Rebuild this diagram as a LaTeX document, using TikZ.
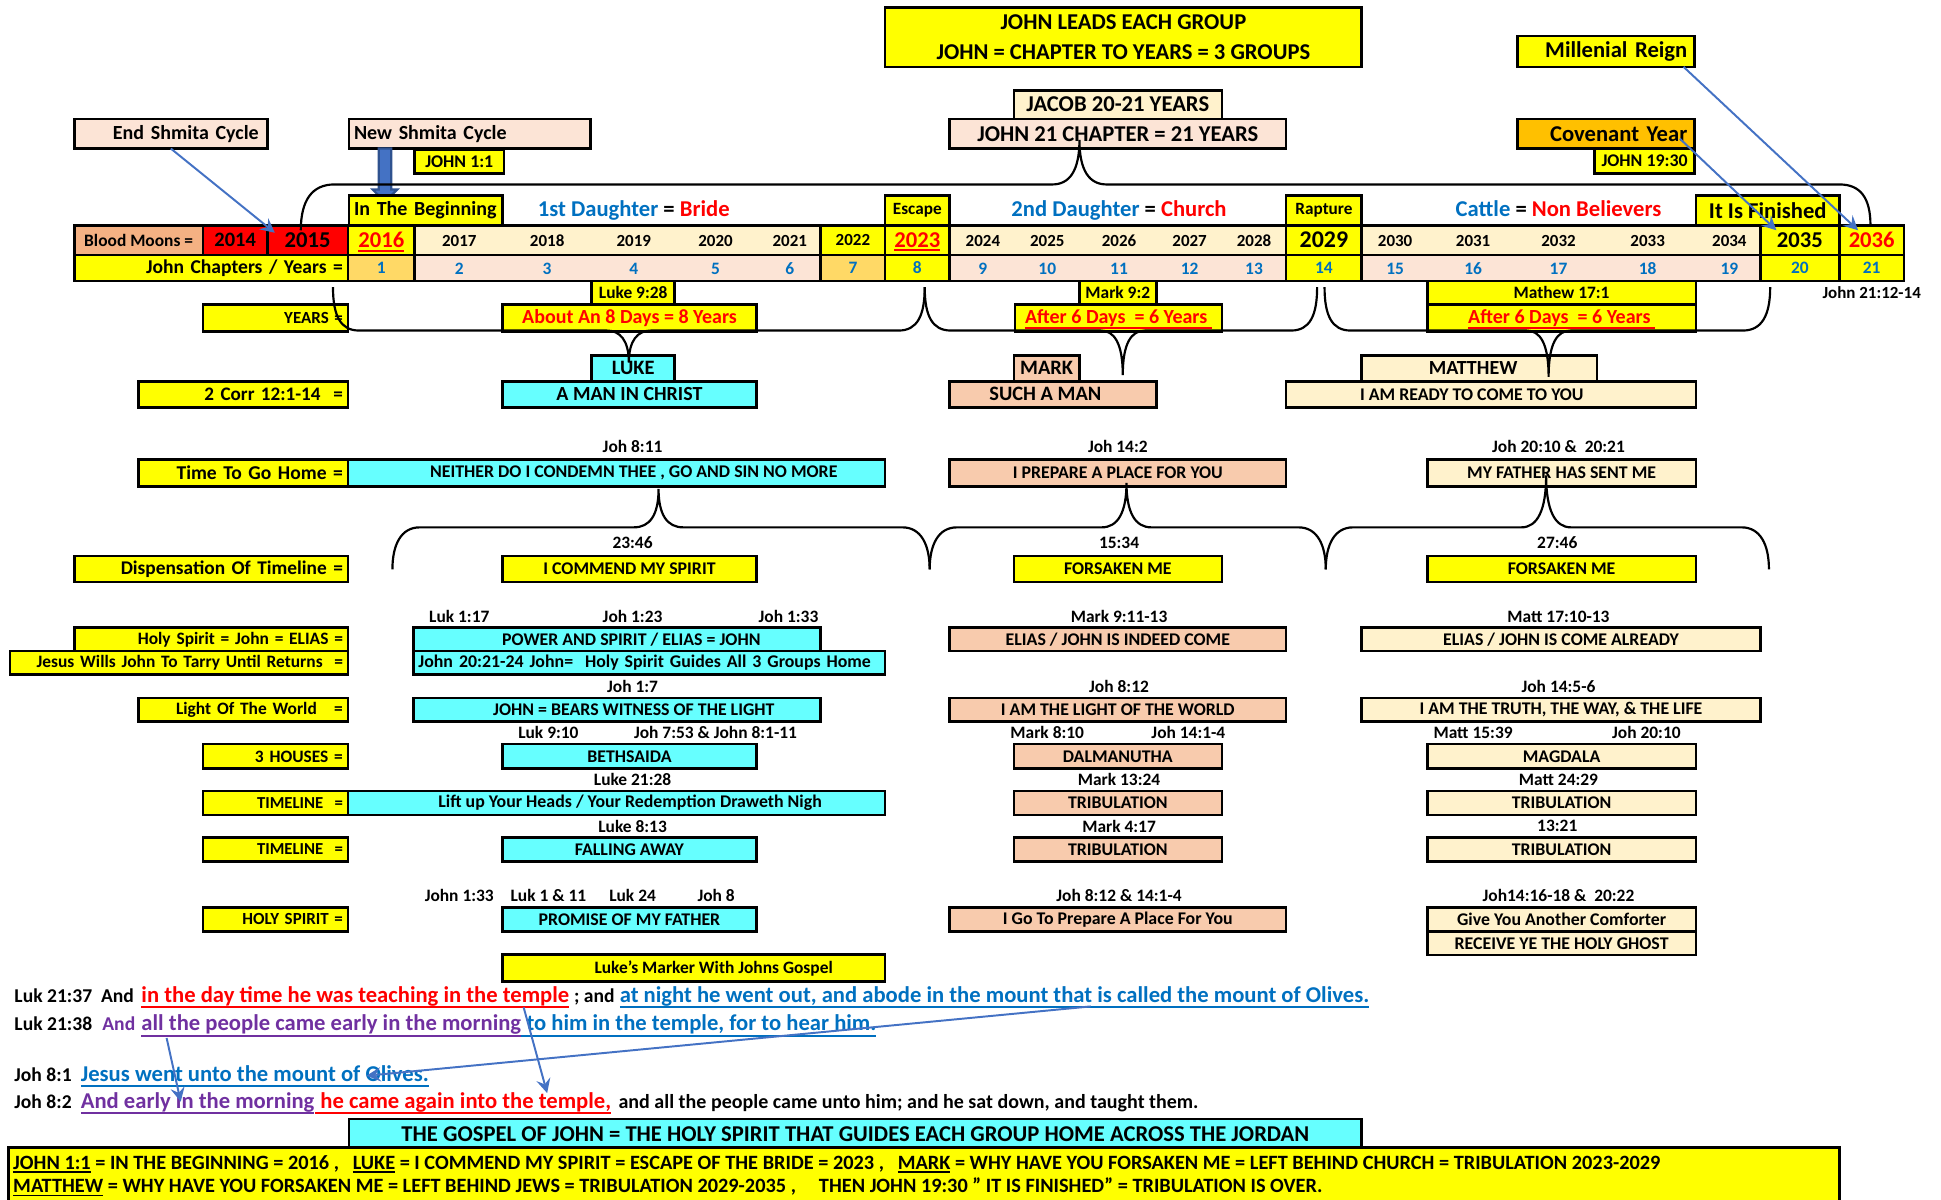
\documentclass[tikz,border=0pt]{standalone}
\usepackage{fontspec}
\setmainfont{Carlito}
\definecolor{boxyellow}{HTML}{FFFF00}
\definecolor{boxcyan}{HTML}{66FFFF}
\definecolor{boxsalmon}{HTML}{F8CBAD}
\definecolor{boxcream}{HTML}{FFF2CC}
\definecolor{boxpink}{HTML}{FCE4D6}
\definecolor{boxgold}{HTML}{FFD966}
\definecolor{boxorange}{HTML}{FFC000}
\definecolor{moonorange}{HTML}{F4B183}
\definecolor{boxred}{HTML}{FF0000}
\definecolor{chblue}{HTML}{0070C0}
\definecolor{verspurple}{HTML}{7030A0}
\definecolor{linkblue}{HTML}{4472C4}
\definecolor{arrowline}{HTML}{2F528F}
\newcommand{\fsz}[1]{\fontsize{#1}{#1}\selectfont\bfseries}
% underline that does not change the height of the text
\newsavebox{\undlbox}
\newcommand{\undl}[2][0.26em]{\sbox{\undlbox}{#2}\smash{\rlap{\rule[-#1]{\wd\undlbox}{0.09em}}}\usebox{\undlbox}}

\tikzset{
  box/.style={draw, line width=0.6pt, inner sep=0pt, outer sep=0pt, anchor=north west, font=\fsz{4.1}},
  dim/.style 2 args={minimum width=#1cm, minimum height=#2cm},
  rbox/.style={box, align=right, inner xsep=0.04cm, text width=#1cm},
  lfbox/.style={box, align=left, inner xsep=0.04cm, text width=#1cm},
  lbox/.style={rbox=#1, fill=boxyellow, font=\fsz{4.0}},
  ref/.style={inner sep=0pt, font=\fsz{4.0}},
  yr/.style={inner sep=0pt, font=\fsz{3.9}},
  ch/.style={inner sep=0pt, font=\fsz{4.0}, text=chblue},
  verse/.style={inner sep=0pt, anchor=base west, font=\fsz{4.5}},
  curl/.style={line width=0.5pt},
  link/.style={draw=linkblue, line width=0.45pt, ->, >=stealth},
}

\begin{document}
\begin{tikzpicture}[x=1cm,y=-1cm]
\useasboundingbox (0,0) rectangle (15.68,9.69);

% heading boxes
\node[box, fill=boxyellow, dim={3.85}{0.48}, font=\fsz{5.2}, align=center] (lead) at (7.15,0.06) {JOHN LEADS EACH GROUP\\[1.6pt]JOHN = CHAPTER TO YEARS = 3 GROUPS};
\node[rbox=1.31, fill=boxyellow, dim={1.43}{0.25}, font=\fsz{5.2}] (mill) at (12.26,0.29) {Millenial Reign};
\node[box, fill=boxcream, dim={1.68}{0.23}, font=\fsz{5.2}] (jacob) at (8.19,0.73) {JACOB 20-21 YEARS};
\node[box, fill=boxpink, dim={2.72}{0.24}, font=\fsz{5.2}] (john21) at (7.67,0.96) {JOHN 21 CHAPTER = 21 YEARS};
\node[rbox=1.42, fill=boxpink, dim={1.56}{0.24}, font=\fsz{4.6}] (endshmita) at (0.60,0.96) {End Shmita Cycle};
\node[lfbox=1.87, fill=boxpink, dim={1.95}{0.24}, font=\fsz{4.6}] (newshmita) at (2.82,0.96) {New Shmita Cycle};
\node[box, fill=boxyellow, dim={0.72}{0.19}] (john11) at (3.35,1.21) {JOHN 1:1};
\node[rbox=1.31, fill=boxorange, dim={1.43}{0.24}, font=\fsz{5.2}] (covenant) at (12.26,0.96) {Covenant Year};
\node[box, fill=boxyellow, dim={0.81}{0.20}] (john1930) at (12.88,1.20) {JOHN 19:30};

% block arrow into the beginning
\draw[fill=linkblue, draw=arrowline, line width=0.5pt] (3.06,1.20) -- (3.16,1.20) -- (3.16,1.53) -- (3.21,1.53) -- (3.11,1.63) -- (3.01,1.53) -- (3.06,1.53) -- cycle;

% markers over the timeline
\node[lfbox=1.16, fill=boxyellow, dim={1.24}{0.24}, font=\fsz{4.6}] (beginning) at (2.82,1.58) {In The Beginning};
\node[inner sep=0pt, anchor=base, font=\fsz{5.2}] (bride) at (5.12,1.75) {\textcolor{chblue}{1st Daughter} = \textcolor{boxred}{Bride}};
\node[box, fill=boxyellow, dim={0.52}{0.24}, font=\fsz{3.95}] (escape) at (7.15,1.58) {Escape};
\node[inner sep=0pt, anchor=base, font=\fsz{5.2}] (church) at (9.04,1.75) {\textcolor{chblue}{2nd Daughter} = \textcolor{boxred}{Church}};
\node[box, fill=boxyellow, dim={0.61}{0.24}, font=\fsz{3.95}] (rapture) at (10.39,1.58) {Rapture};
\node[inner sep=0pt, anchor=base, font=\fsz{5.2}] (cattle) at (12.59,1.75) {\textcolor{chblue}{Cattle} = \textcolor{boxred}{Non Believers}};
\node[box, fill=boxyellow, dim={1.16}{0.24}, font=\fsz{5.2}] (finished) at (13.70,1.58) {It Is Finished};

% years row
\node[box, fill=moonorange, dim={1.04}{0.24}, font=\fsz{4.0}] (moons) at (0.60,1.82) {Blood Moons =};
\node[box, fill=boxred, dim={0.52}{0.24}, font=\fsz{4.7}] (y2014) at (1.64,1.82) {2014};
\node[box, fill=boxred, dim={0.65}{0.24}, font=\fsz{5.2}] (y2015) at (2.16,1.82) {2015};
\node[box, fill=boxyellow, dim={0.54}{0.24}, font=\fsz{5.2}, text=boxred] (y2016) at (2.81,1.82) {\undl[0.17em]{2016}};
\node[box, fill=boxcream, dim={3.28}{0.24}] (run1) at (3.35,1.82) {};
\node[box, fill=boxyellow, dim={0.52}{0.24}, font=\fsz{3.9}] (y2022) at (6.63,1.82) {2022};
\node[box, fill=boxyellow, dim={0.52}{0.24}, font=\fsz{5.2}, text=boxred] (y2023) at (7.15,1.82) {\undl[0.17em]{2023}};
\node[box, fill=boxcream, dim={2.72}{0.24}] (run2) at (7.67,1.82) {};
\node[box, fill=boxyellow, dim={0.61}{0.24}, font=\fsz{5.5}] (y2029) at (10.39,1.82) {2029};
\node[box, fill=boxcream, dim={3.22}{0.24}] (run3) at (11.00,1.82) {};
\node[box, fill=boxyellow, dim={0.64}{0.24}, font=\fsz{5.2}] (y2035) at (14.22,1.82) {2035};
\node[box, fill=boxyellow, dim={0.52}{0.24}, font=\fsz{5.2}, text=boxred] (y2036) at (14.86,1.82) {2036};

% chapters row
\node[rbox=2.13, fill=boxyellow, dim={2.21}{0.21}, font=\fsz{4.5}] (chapters) at (0.60,2.06) {John Chapters / Years =};
\node[box, ch, fill=boxgold, dim={0.54}{0.21}] (c1) at (2.81,2.06) {1};
\node[box, fill=boxpink, dim={3.28}{0.21}] (prun1) at (3.35,2.06) {};
\node[box, ch, fill=boxgold, dim={0.52}{0.21}] (c7) at (6.63,2.06) {7};
\node[box, ch, fill=boxyellow, dim={0.52}{0.21}] (c8) at (7.15,2.06) {8};
\node[box, fill=boxpink, dim={2.72}{0.21}] (prun2) at (7.67,2.06) {};
\node[box, ch, fill=boxyellow, dim={0.61}{0.21}] (c14) at (10.39,2.06) {14};
\node[box, fill=boxpink, dim={3.22}{0.21}] (prun3) at (11.00,2.06) {};
\node[box, ch, fill=boxyellow, dim={0.64}{0.21}] (c20) at (14.22,2.06) {20};
\node[box, ch, fill=boxyellow, dim={0.52}{0.21}] (c21) at (14.86,2.06) {21};

\foreach \yr/\ch/\cx in {2017/2/3.71, 2018/3/4.42, 2019/4/5.12, 2020/5/5.78, 2021/6/6.38,
    2024/9/7.94, 2025/10/8.46, 2026/11/9.04, 2027/12/9.61, 2028/13/10.13,
    2030/15/11.27, 2031/16/11.90, 2032/17/12.59, 2033/18/13.31, 2034/19/13.97} {
  \node[yr] (y\yr) at (\cx,1.945) {\yr};
  \node[ch] (c\ch) at (\cx,2.17) {\ch};
}

% under the timeline
\node[ref, font=\fsz{3.9}] (jn2112) at (15.12,2.365) {John 21:12-14};
\node[box, fill=boxyellow, dim={0.67}{0.19}, font=\fsz{4.0}] (luk928) at (4.78,2.27) {Luke 9:28};
\node[lbox=1.09, dim={1.17}{0.22}, font=\fsz{3.9}] (years) at (1.64,2.46) {YEARS =};
\node[box, fill=boxyellow, dim={2.05}{0.22}, font=\fsz{4.6}, text=boxred] (about8) at (4.06,2.46) {About An 8 Days = 8 Years};
\node[box, fill=boxyellow, dim={0.62}{0.19}, font=\fsz{4.0}] (mark92) at (8.72,2.27) {Mark 9:2};
\node[box, fill=boxyellow, dim={1.67}{0.22}, font=\fsz{4.6}, text=boxred] (after6a) at (8.20,2.46) {\undl{After 6 Days\ \ = 6 Years\ }};
\node[box, fill=boxyellow, dim={2.17}{0.19}, font=\fsz{4.0}] (mat171) at (11.53,2.27) {Mathew 17:1};
\node[box, fill=boxyellow, dim={2.17}{0.22}, font=\fsz{4.6}, text=boxred] (after6b) at (11.53,2.46) {\undl{After 6 Days\ \ = 6 Years\ }};

% the three writers
\node[lbox=1.61, dim={1.69}{0.21}, font=\fsz{4.4}] (corr) at (1.12,3.08) {2 Corr 12:1-14\ \ =};
\node[box, fill=boxcyan, dim={0.67}{0.21}, font=\fsz{4.7}] (luke) at (4.78,2.87) {LUKE};
\node[box, fill=boxcyan, dim={2.05}{0.21}, font=\fsz{4.6}] (aman) at (4.06,3.08) {A MAN IN CHRIST};
\node[box, fill=boxsalmon, dim={0.53}{0.21}, font=\fsz{4.7}] (mark) at (8.19,2.87) {MARK};
\node[box, fill=boxsalmon, dim={1.67}{0.21}] (such) at (7.67,3.08) {};
\node[ref, font=\fsz{4.7}] (suchtxt) at (8.445,3.185) {SUCH A MAN};
\node[box, fill=boxcream, dim={1.90}{0.21}] (matthew) at (11.00,2.87) {};
\node[ref, font=\fsz{4.6}] (matthewtxt) at (11.90,2.975) {MATTHEW};
\node[box, fill=boxcream, dim={3.31}{0.21}] (ready) at (10.39,3.08) {};
\node[ref, font=\fsz{4.1}] (readytxt) at (11.89,3.185) {I AM READY TO COME TO YOU};

% going home
\node[ref] (r811) at (5.11,3.61) {Joh 8:11};
\node[ref] (r142) at (9.03,3.61) {Joh 14:2};
\node[ref] (r2010) at (12.59,3.61) {Joh 20:10 \&\ \ 20:21};
\node[lbox=1.61, dim={1.69}{0.22}, font=\fsz{4.5}] (gohome) at (1.12,3.71) {Time To Go Home =};
\node[box, fill=boxcyan, dim={4.34}{0.22}] (neither) at (2.81,3.71) {};
\node[ref, font=\fsz{4.1}] (neithertxt) at (5.12,3.82) {NEITHER DO I CONDEMN THEE , GO AND SIN NO MORE};
\node[box, fill=boxsalmon, dim={2.72}{0.22}] (prepare) at (7.67,3.71) {I PREPARE A PLACE FOR YOU};
\node[box, fill=boxcream, dim={2.17}{0.22}] (father) at (11.53,3.71) {MY FATHER HAS SENT ME};

% dispensation
\node[ref] (r2346) at (5.11,4.385) {23:46};
\node[ref] (r1534) at (9.04,4.385) {15:34};
\node[ref] (r2746) at (12.58,4.385) {27:46};
\node[lbox=2.13, dim={2.21}{0.21}, font=\fsz{4.45}] (dispens) at (0.60,4.49) {Dispensation Of Timeline =};
\node[box, fill=boxyellow, dim={2.05}{0.21}] (commend) at (4.06,4.49) {I COMMEND MY SPIRIT};
\node[box, fill=boxyellow, dim={1.68}{0.21}] (forsakeb) at (8.19,4.49) {FORSAKEN ME};
\node[box, fill=boxyellow, dim={2.17}{0.21}] (forsakec) at (11.53,4.49) {FORSAKEN ME};

% elias
\node[ref] (r117) at (3.71,4.98) {Luk 1:17};
\node[ref] (r123) at (5.11,4.98) {Joh 1:23};
\node[ref] (r133) at (6.37,4.98) {Joh 1:33};
\node[ref] (r911) at (9.04,4.98) {Mark 9:11-13};
\node[ref] (r1710) at (12.59,4.98) {Matt 17:10-13};
\node[lbox=2.13, dim={2.21}{0.19}] (elias) at (0.60,5.07) {Holy Spirit = John = ELIAS =};
\node[lbox=2.65, dim={2.73}{0.19}] (tarry) at (0.08,5.26) {Jesus Wills John To Tarry Until Returns\ \ =};
\node[box, fill=boxcyan, dim={3.29}{0.19}] (power) at (3.34,5.07) {};
\node[ref, font=\fsz{4.1}] (powertxt) at (5.10,5.165) {POWER AND SPIRIT / ELIAS = JOHN};
\node[lfbox=3.73, fill=boxcyan, dim={3.81}{0.19}] (guides) at (3.34,5.26) {John 20:21-24 John=\ \ Holy Spirit Guides All 3 Groups Home};
\node[box, fill=boxsalmon, dim={2.72}{0.19}] (indeed) at (7.67,5.07) {ELIAS / JOHN IS INDEED COME};
\node[box, fill=boxcream, dim={3.22}{0.19}] (already) at (11.00,5.07) {ELIAS / JOHN IS COME ALREADY};

% light
\node[ref] (r17) at (5.11,5.545) {Joh 1:7};
\node[ref] (r812) at (9.04,5.545) {Joh 8:12};
\node[ref] (r145) at (12.59,5.545) {Joh 14:5-6};
\node[lbox=1.61, dim={1.69}{0.19}] (light) at (1.12,5.64) {Light Of The World\ \ \ =};
\node[box, fill=boxcyan, dim={3.29}{0.19}] (witness) at (3.34,5.64) {};
\node[ref, font=\fsz{4.1}] (witnesstxt) at (5.12,5.735) {JOHN = BEARS WITNESS OF THE LIGHT};
\node[box, fill=boxsalmon, dim={2.72}{0.19}] (iamlight) at (7.67,5.64) {I AM THE LIGHT OF THE WORLD};
\node[box, fill=boxcream, dim={3.22}{0.19}] (truth) at (11.00,5.64) {I AM THE TRUTH, THE WAY, \& THE LIFE};

% houses
\node[ref] (r910) at (4.43,5.92) {Luk 9:10};
\node[ref] (r753) at (5.78,5.92) {Joh 7:53 \& John 8:1-11};
\node[ref] (r810) at (8.46,5.92) {Mark 8:10};
\node[ref] (r141) at (9.60,5.92) {Joh 14:1-4};
\node[ref] (r1539) at (11.90,5.92) {Matt 15:39};
\node[ref] (r2010b) at (13.30,5.92) {Joh 20:10};
\node[lbox=1.09, dim={1.17}{0.20}] (houses) at (1.64,6.01) {3 HOUSES =};
\node[box, fill=boxcyan, dim={2.05}{0.20}] (beth) at (4.06,6.01) {BETHSAIDA};
\node[box, fill=boxsalmon, dim={1.68}{0.20}] (dalma) at (8.19,6.01) {DALMANUTHA};
\node[box, fill=boxcream, dim={2.17}{0.20}] (magdala) at (11.53,6.01) {MAGDALA};

% timeline rows
\node[ref] (r2128) at (5.11,6.30) {Luke 21:28};
\node[ref] (r1324) at (9.04,6.30) {Mark 13:24};
\node[ref] (r2429) at (12.59,6.30) {Matt 24:29};
\node[lbox=1.09, dim={1.17}{0.195}, font=\fsz{3.85}] (tline1) at (1.64,6.39) {TIMELINE\ \ =};
\node[box, fill=boxcyan, dim={4.34}{0.195}] (lift) at (2.81,6.39) {};
\node[ref, font=\fsz{4.1}] (lifttxt) at (5.09,6.4875) {Lift up Your Heads / Your Redemption Draweth Nigh};
\node[box, fill=boxsalmon, dim={1.68}{0.195}] (tribb1) at (8.19,6.39) {TRIBULATION};
\node[box, fill=boxcream, dim={2.17}{0.195}] (tribc1) at (11.53,6.39) {TRIBULATION};

\node[ref] (r813) at (5.11,6.675) {Luke 8:13};
\node[ref] (r417) at (9.04,6.675) {Mark 4:17};
\node[ref] (r1321) at (12.58,6.675) {13:21};
\node[lbox=1.09, dim={1.17}{0.195}, font=\fsz{3.85}] (tline2) at (1.64,6.765) {TIMELINE\ \ =};
\node[box, fill=boxcyan, dim={2.05}{0.195}] (falling) at (4.06,6.765) {FALLING AWAY};
\node[box, fill=boxsalmon, dim={1.68}{0.195}] (tribb2) at (8.19,6.765) {TRIBULATION};
\node[box, fill=boxcream, dim={2.17}{0.195}] (tribc2) at (11.53,6.765) {TRIBULATION};

% holy spirit
\node[ref] (r133b) at (3.71,7.235) {John 1:33};
\node[ref] (r111) at (4.43,7.235) {Luk 1 \& 11};
\node[ref] (r24) at (5.11,7.235) {Luk 24};
\node[ref] (r8) at (5.785,7.235) {Joh 8};
\node[ref] (r812b) at (9.04,7.235) {Joh 8:12 \& 14:1-4};
\node[ref] (r1416) at (12.59,7.235) {Joh14:16-18 \&\ \ 20:22};
\node[lbox=1.09, dim={1.17}{0.195}, font=\fsz{3.9}] (holysp) at (1.64,7.33) {HOLY SPIRIT =};
\node[box, fill=boxcyan, dim={2.05}{0.195}] (promise) at (4.06,7.33) {PROMISE OF MY FATHER};
\node[box, fill=boxsalmon, dim={2.72}{0.195}] (igo) at (7.67,7.33) {I Go To Prepare A Place For You};
\node[box, fill=boxcream, dim={2.17}{0.195}] (comforter) at (11.53,7.33) {Give You Another Comforter};
\node[box, fill=boxcream, dim={2.17}{0.19}] (ghost) at (11.53,7.525) {RECEIVE YE THE HOLY GHOST};
\node[box, fill=boxyellow, dim={3.09}{0.22}] (marker) at (4.06,7.71) {};
\node[ref] (markertxt) at (5.765,7.82) {Luke's Marker With Johns Gospel};

% verses
\node[verse] (v1a) at (0.11,8.096) {Luk 21:37\ \ And};
\node[verse, font=\fsz{5.2}, text=boxred] (v1b) at (1.136,8.096) {\undl{in the day time he was teaching in the temple}};
\node[verse] (v1c) at (4.63,8.096) {; and};
\node[verse, font=\fsz{5.2}, text=chblue] (v1d) at (5.00,8.096) {\undl{at night he went out, and abode in the mount that is called the mount of Olives.}};
\node[verse] (v2a) at (0.11,8.328) {Luk 21:38};
\node[verse, text=verspurple] (v2b) at (0.82,8.328) {And};
\node[verse, font=\fsz{5.2}, text=verspurple] (v2c) at (1.136,8.328) {\undl{all the people came early in the morning}};
\node[verse, font=\fsz{5.2}, text=chblue] (v2d) at (4.205,8.328) {\undl{\ to him in the temple, for to hear him.}};
\node[verse] (v3a) at (0.11,8.737) {Joh 8:1};
\node[verse, font=\fsz{5.2}, text=chblue] (v3b) at (0.646,8.737) {\undl{Jesus went unto the mount of Olives.}};
\node[verse] (v4a) at (0.11,8.953) {Joh 8:2};
\node[verse, font=\fsz{5.2}, text=verspurple] (v4b) at (0.646,8.953) {\undl{And early in the morning}};
\node[verse, font=\fsz{5.2}, text=boxred] (v4c) at (2.54,8.953) {\undl{\ he came again into the temple,}};
\node[verse, font=\fsz{4.6}] (v4d) at (4.99,8.953) {and all the people came unto him; and he sat down, and taught them.};

% bottom summary
\node[box, fill=boxcyan, dim={8.18}{0.24}, font=\fsz{5.2}] (gospel) at (2.82,9.04) {THE GOSPEL OF JOHN = THE HOLY SPIRIT THAT GUIDES EACH GROUP HOME ACROSS THE JORDAN};
\node[box, fill=boxyellow, dim={14.79}{0.44}] (summary) at (0.07,9.27) {};
\node[verse, font=\fsz{4.67}] (sum1) at (0.10,9.445) {\undl[0.17em]{JOHN 1:1} = IN THE BEGINNING = 2016 ,\ \ \ \undl[0.17em]{LUKE} = I COMMEND MY SPIRIT = ESCAPE OF THE BRIDE = 2023 ,\ \ \ \undl[0.17em]{MARK} = WHY HAVE YOU FORSAKEN ME = LEFT BEHIND CHURCH = TRIBULATION 2023-2029};
\node[verse, font=\fsz{4.67}] (sum2) at (0.10,9.637) {\undl[0.17em]{MATTHEW} = WHY HAVE YOU FORSAKEN ME = LEFT BEHIND JEWS = TRIBULATION 2029-2035 ,\ \ \ \ \ THEN JOHN 19:30 \symbol{34} IT IS FINISHED\symbol{34} = TRIBULATION IS OVER.};

% braces
\draw[curl] (2.43,1.86) .. controls (2.43,1.62) and (2.52,1.49) .. (2.70,1.49) -- (8.50,1.49)
  .. controls (8.64,1.49) and (8.72,1.38) .. (8.72,1.13) .. controls (8.72,1.38) and (8.80,1.49) .. (8.94,1.49)
  -- (14.86,1.49) .. controls (15.03,1.49) and (15.11,1.60) .. (15.11,1.82);
\draw[curl] (2.69,2.32) .. controls (2.69,2.55) and (2.75,2.67) .. (2.90,2.67) -- (4.90,2.67)
  .. controls (5.01,2.67) and (5.08,2.75) .. (5.08,2.93) .. controls (5.08,2.75) and (5.15,2.67) .. (5.26,2.67)
  -- (7.26,2.67) .. controls (7.41,2.67) and (7.47,2.55) .. (7.47,2.32);
\draw[curl] (7.47,2.32) .. controls (7.47,2.55) and (7.53,2.67) .. (7.68,2.67) -- (8.89,2.67)
  .. controls (9.00,2.67) and (9.07,2.77) .. (9.07,3.03) .. controls (9.07,2.77) and (9.14,2.67) .. (9.25,2.67)
  -- (10.43,2.67) .. controls (10.58,2.67) and (10.64,2.55) .. (10.64,2.32);
\draw[curl] (10.70,2.32) .. controls (10.70,2.55) and (10.76,2.67) .. (10.91,2.67) -- (12.33,2.67)
  .. controls (12.44,2.67) and (12.51,2.77) .. (12.51,3.045) .. controls (12.51,2.77) and (12.58,2.67) .. (12.69,2.67)
  -- (14.08,2.67) .. controls (14.23,2.67) and (14.30,2.55) .. (14.30,2.32);
\draw[curl] (3.17,4.60) .. controls (3.17,4.40) and (3.24,4.26) .. (3.39,4.26) -- (5.12,4.26)
  .. controls (5.25,4.26) and (5.32,4.16) .. (5.32,3.95) .. controls (5.32,4.16) and (5.39,4.26) .. (5.52,4.26)
  -- (7.29,4.26) .. controls (7.44,4.26) and (7.51,4.40) .. (7.51,4.60);
\draw[curl] (7.51,4.60) .. controls (7.51,4.40) and (7.58,4.26) .. (7.73,4.26) -- (8.90,4.26)
  .. controls (9.03,4.26) and (9.10,4.14) .. (9.10,3.90) .. controls (9.10,4.14) and (9.17,4.26) .. (9.30,4.26)
  -- (10.49,4.26) .. controls (10.64,4.26) and (10.71,4.40) .. (10.71,4.60);
\draw[curl] (10.71,4.60) .. controls (10.71,4.40) and (10.78,4.26) .. (10.93,4.26) -- (12.29,4.26)
  .. controls (12.42,4.26) and (12.49,4.12) .. (12.49,3.84) .. controls (12.49,4.12) and (12.56,4.26) .. (12.69,4.26)
  -- (14.07,4.26) .. controls (14.22,4.26) and (14.29,4.40) .. (14.29,4.60);

% pointers
\draw[link] (endshmita.south) -- ([shift={(0.06,0.06)}]y2015.north west);
\draw[link] ([xshift=-0.09cm]mill.south east) -- ([shift={(0.15,0.04)}]y2036.north west);
\draw[link] ([shift={(-0.12,-0.08)}]covenant.south east) -- ([shift={(0.13,0.04)}]y2035.north west);
\coordinate (olivesa) at (8.81,8.13);
\coordinate (olivesb) at (2.96,8.69);
\coordinate (templea) at (4.23,8.137);
\coordinate (templeb) at (4.42,8.83);
\coordinate (peoplea) at (1.346,8.385);
\coordinate (peopleb) at (1.46,8.90);
\draw[link] (olivesa) -- (olivesb);
\draw[link] (templea) -- (templeb);
\draw[link] (peoplea) -- (peopleb);

\end{tikzpicture}
\end{document}
